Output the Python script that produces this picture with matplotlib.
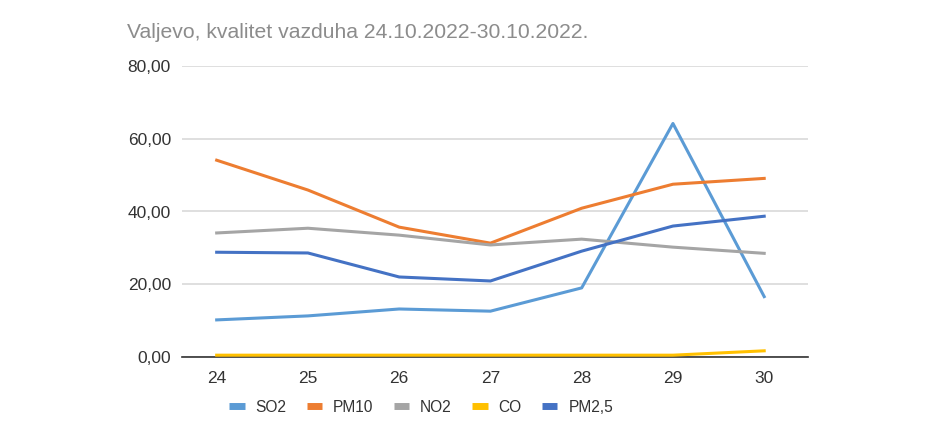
import matplotlib
matplotlib.use("Agg")
import matplotlib.pyplot as plt
from matplotlib.lines import Line2D

plt.rcParams['font.family'] = ['Liberation Sans', 'DejaVu Sans']

days = ["24", "25", "26", "27", "28", "29", "30"]
so2 = [10.2, 11.3, 13.2, 12.6, 19.0, 64.2, 16.6]
pm10 = [54.1, 45.9, 35.7, 31.3, 40.9, 47.5, 49.1]
no2 = [34.1, 35.4, 33.5, 30.8, 32.4, 30.2, 28.5]
co = [0.5, 0.5, 0.5, 0.5, 0.5, 0.5, 1.7]
pm25 = [28.8, 28.6, 22.0, 20.9, 29.1, 36.0, 38.7]

series = [("SO2", so2, "#5B9BD5"), ("PM10", pm10, "#ED7D31"),
          ("NO2", no2, "#A5A5A5"), ("CO", co, "#FFC000"),
          ("PM2,5", pm25, "#4472C4")]

fig = plt.figure(figsize=(9.41, 4.44), dpi=100)
ax = fig.add_axes([182/941, 1-357/444, (808-182)/941, (357-66)/444])

x = list(range(len(days)))
for name, vals, col in series:
    ax.plot(x, vals, color=col, lw=2.2, label=name, solid_joinstyle='round', zorder=3)

ax.set_ylim(0, 80)
ax.set_yticks([0, 20, 40, 60, 80])
ax.set_yticklabels(["0,00", "20,00", "40,00", "60,00", "80,00"])
ax.set_xlim(-0.38, 6.48)
ax.set_xticks(x)
ax.set_xticklabels(days)
ax.grid(axis='y', color='#D9D9D9', lw=1.2, zorder=0)
for s in ['top', 'right', 'left']:
    ax.spines[s].set_visible(False)
ax.spines['bottom'].set_color('#333333')
ax.spines['bottom'].set_linewidth(1.2)
ax.spines['bottom'].set_zorder(2)
ax.tick_params(axis='both', length=0, labelsize=12.5, colors='#333333')
ax.tick_params(axis='y', pad=8)
ax.tick_params(axis='x', pad=10)

fig.text(127/941, 1-32/444, "Valjevo, kvalitet vazduha 24.10.2022-30.10.2022.",
         fontsize=15.2, color='#8C8C8C', va='center', ha='left')

handles = [Line2D([0], [0], color=c, lw=5, solid_capstyle='butt') for _, _, c in series]
fig.legend(handles, [n for n, _, _ in series], loc='center', bbox_to_anchor=(421/941, 1-407/444),
           ncol=5, frameon=False, fontsize=11.2, handlelength=1.0, handletextpad=0.7,
           columnspacing=1.3, labelcolor='#333333')

fig.savefig("out.png", dpi=100, facecolor='white')
